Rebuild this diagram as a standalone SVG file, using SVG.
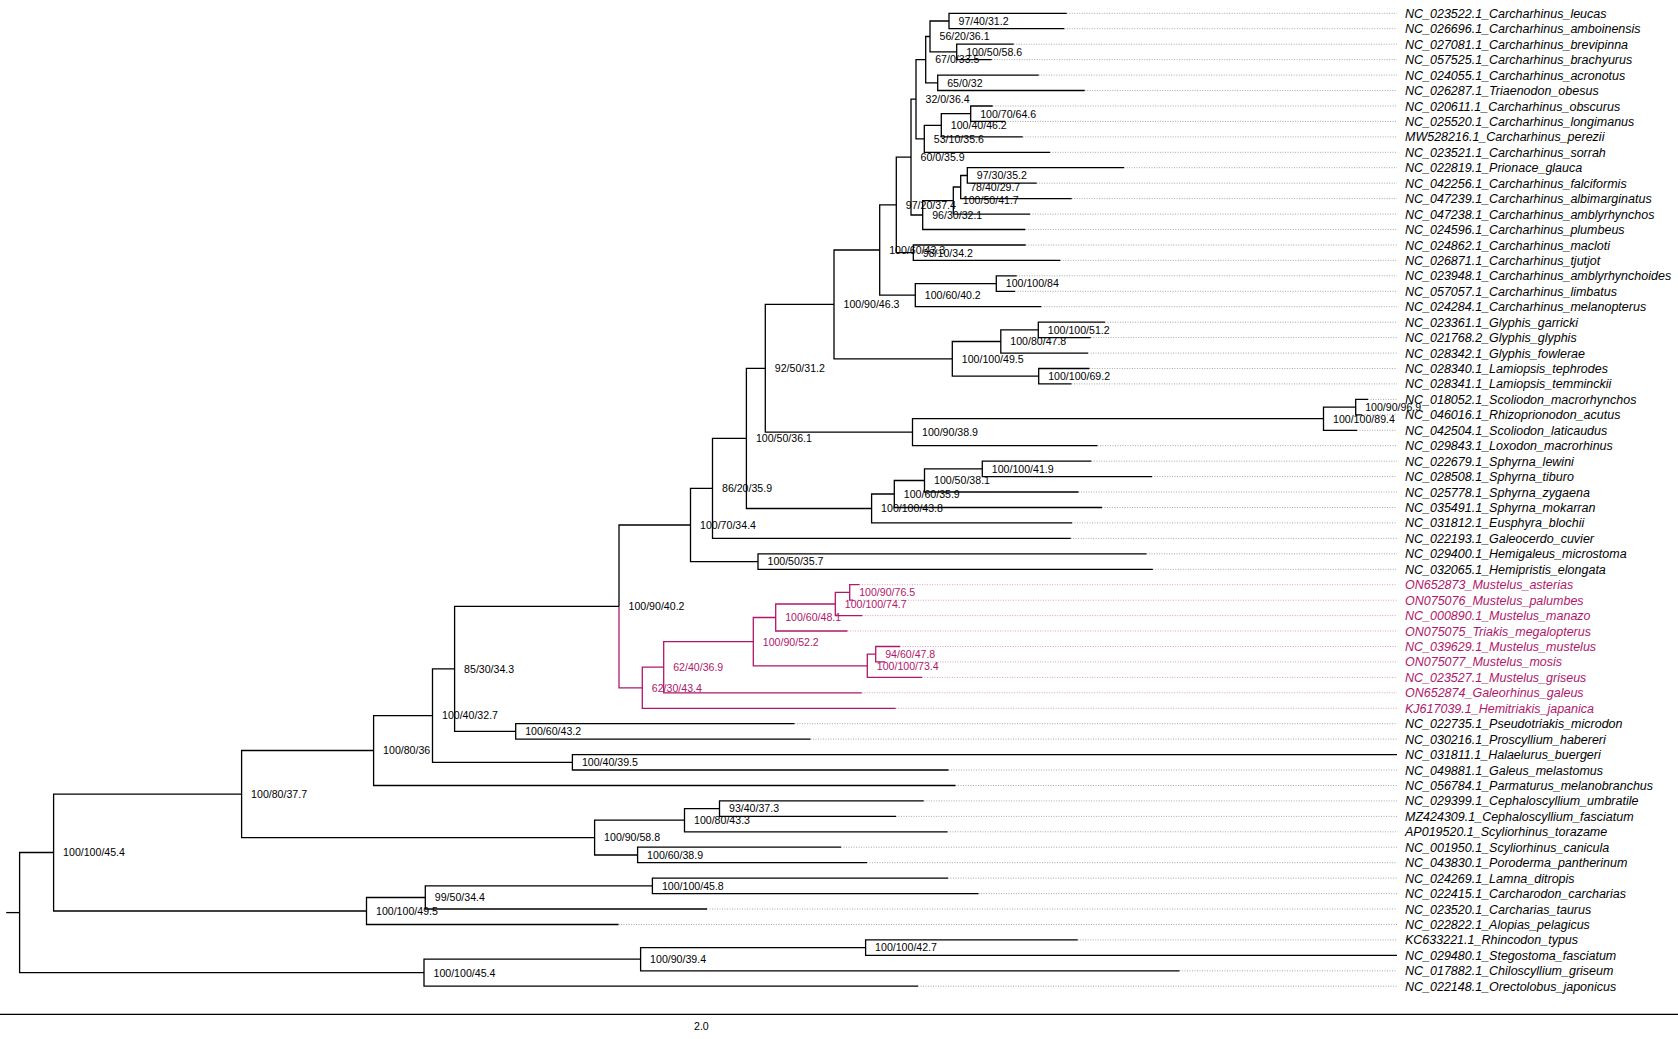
<svg xmlns="http://www.w3.org/2000/svg" width="1678" height="1039" viewBox="0 0 1678 1039">
<style>
.b{fill:none;stroke:#000;stroke-width:1.3}
.p{fill:none;stroke:#b0176a;stroke-width:1.3}
.d{fill:none;stroke:#a8a8a8;stroke-width:1;stroke-dasharray:1 1.5}
.dp{fill:none;stroke:#d9a3c2;stroke-width:1;stroke-dasharray:1 1.5}
.t{font-family:"Liberation Sans",Arial,sans-serif;font-style:italic;font-size:12.5px;fill:#000}
.tp{fill:#b0176a}
.n{font-family:"Liberation Sans",Arial,sans-serif;font-size:10.6px;fill:#000}
.np{fill:#b0176a}
</style>
<rect width="1678" height="1039" fill="#fff"/>
<g id="guides">
<path class="d" d="M1066.7,13.3H1397M1064.3,28.7H1397M1013.7,44.2H1397M991.7,59.6H1397M1038.7,75.1H1397M1084.7,90.5H1397M992.7,106H1397M1005,121.4H1397M1022.7,136.9H1397M1050,152.3H1397M1124,167.7H1397M1036.7,183.2H1397M1071.7,198.6H1397M1030,214.1H1397M1025.3,229.5H1397M1025.7,245H1397M1060.3,260.4H1397M1016.7,275.8H1397M1015,291.3H1397M1041.3,306.7H1397M1105,322.2H1397M1090.7,337.6H1397M1088,353.1H1397M1089.4,368.5H1397M1071.5,383.9H1397M1368,399.4H1397M1362,414.8H1397M1357,430.3H1397M1097.5,445.7H1397M1091.3,461.2H1397M1152,476.6H1397M1078.5,492H1397M1102,507.5H1397M1072,522.9H1397M1070.7,538.4H1397M1146.5,553.8H1397M1152.8,569.3H1397"/>
<path class="dp" d="M859.5,584.7H1397M853,600.2H1397M862.3,615.6H1397M847.5,631H1397M900,646.5H1397M885,661.9H1397M922,677.4H1397M861.7,692.8H1397M895.7,708.3H1397"/>
<path class="d" d="M794.5,723.7H1397M810.5,739.1H1397M948.5,770H1397M955.5,785.5H1397M923.7,800.9H1397M896,816.4H1397M947.5,831.8H1397M841,847.2H1397M867,862.7H1397M948,878.1H1397M978.5,893.6H1397M707,909H1397M618.5,924.5H1397M1077.7,939.9H1397M1179.5,970.8H1397M918,986.2H1397"/>
</g>
<g id="connectors">
<path class="b" d="M1066.7,13.3H949V28.7H1064.3"/>
<path class="b" d="M1013.7,44.2H956.7V59.6H991.7"/>
<path class="b" d="M949,21H930V51.9H956.7"/>
<path class="b" d="M1038.7,75.1H937.7V90.5H1084.7"/>
<path class="b" d="M930,36.5H925.7V82.8H937.7"/>
<path class="b" d="M992.7,106H970.7V121.4H1005"/>
<path class="b" d="M970.7,113.7H941.3V136.9H1022.7"/>
<path class="b" d="M941.3,125.3H924.3V152.3H1050"/>
<path class="b" d="M925.7,59.6H916V138.8H924.3"/>
<path class="b" d="M1124,167.7H967.3V183.2H1036.7"/>
<path class="b" d="M967.3,175.5H960.7V198.6H1071.7"/>
<path class="b" d="M960.7,187H953.3V214.1H1030"/>
<path class="b" d="M953.3,200.6H922.7V229.5H1025.3"/>
<path class="b" d="M916,99.2H911V215H922.7"/>
<path class="b" d="M1025.7,245H913.3V260.4H1060.3"/>
<path class="b" d="M911,157.1H896.3V252.7H913.3"/>
<path class="b" d="M1016.7,275.8H996.3V291.3H1015"/>
<path class="b" d="M996.3,283.6H915.3V306.7H1041.3"/>
<path class="b" d="M896.3,204.9H879.7V295.2H915.3"/>
<path class="b" d="M1105,322.2H1038.3V337.6H1090.7"/>
<path class="b" d="M1038.3,329.9H1000.8V353.1H1088"/>
<path class="b" d="M1089.4,368.5H1038.7V383.9H1071.5"/>
<path class="b" d="M1000.8,341.5H952.3V376.2H1038.7"/>
<path class="b" d="M879.7,250H834V358.9H952.3"/>
<path class="b" d="M1368,399.4H1355.7V414.8H1362"/>
<path class="b" d="M1355.7,407.1H1323.5V430.3H1357"/>
<path class="b" d="M1323.5,418.7H912.5V445.7H1097.5"/>
<path class="b" d="M834,304.4H765.3V432.2H912.5"/>
<path class="b" d="M1091.3,461.2H982.3V476.6H1152"/>
<path class="b" d="M982.3,468.9H924.5V492H1078.5"/>
<path class="b" d="M924.5,480.5H894.3V507.5H1102"/>
<path class="b" d="M894.3,494H871.6V522.9H1072"/>
<path class="b" d="M765.3,368.3H746.4V508.5H871.6"/>
<path class="b" d="M746.4,438.4H712.5V538.4H1070.7"/>
<path class="b" d="M1146.5,553.8H758V569.3H1152.8"/>
<path class="b" d="M712.5,488.4H690.5V561.6H758"/>
<path class="b" d="M690.5,525H619V606.4"/>
<path class="p" d="M619,606.4V687.8H642.3"/>
<path class="p" d="M859.5,584.7H849.7V600.2H853"/>
<path class="p" d="M849.7,592.4H835.3V615.6H862.3"/>
<path class="p" d="M835.3,604H775.7V631H847.5"/>
<path class="p" d="M900,646.5H875.7V661.9H885"/>
<path class="p" d="M875.7,654.2H867.3V677.4H922"/>
<path class="p" d="M775.7,617.5H753.3V665.8H867.3"/>
<path class="p" d="M753.3,641.7H663.7V692.8H861.7"/>
<path class="p" d="M663.7,667.2H642.3V708.3H895.7"/>
<path class="b" d="M794.5,723.7H515.7V739.1H810.5"/>
<path class="b" d="M619,606.4H454.6V731.4H515.7"/>
<path class="b" d="M1397,754.6H572.4V770H948.5"/>
<path class="b" d="M454.6,668.9H432.5V762.3H572.4"/>
<path class="b" d="M432.5,715.6H373.6V785.5H955.5"/>
<path class="b" d="M923.7,800.9H719.5V816.4H896"/>
<path class="b" d="M719.5,808.6H684.5V831.8H947.5"/>
<path class="b" d="M841,847.2H637.6V862.7H867"/>
<path class="b" d="M684.5,820.2H594.6V855H637.6"/>
<path class="b" d="M373.6,750.5H241.6V837.6H594.6"/>
<path class="b" d="M948,878.1H652.4V893.6H978.5"/>
<path class="b" d="M652.4,885.9H425.3V909H707"/>
<path class="b" d="M425.3,897.5H366.5V924.5H618.5"/>
<path class="b" d="M241.6,794.1H53.6V911H366.5"/>
<path class="b" d="M1077.7,939.9H865.6V955.3H1397"/>
<path class="b" d="M865.6,947.6H640.6V970.8H1179.5"/>
<path class="b" d="M640.6,959.2H424V986.2H918"/>
<path class="b" d="M53.6,852.5H19.6V972.7H424"/>
<path class="b" d="M6.2,912.6H19.6"/>
</g>
<g id="tips" class="t">
<g id="tip01"><text x="1405" y="17.8">NC_023522.1_Carcharhinus_leucas</text></g>
<g id="tip02"><text x="1405" y="33.2">NC_026696.1_Carcharhinus_amboinensis</text></g>
<g id="tip03"><text x="1405" y="48.7">NC_027081.1_Carcharhinus_brevipinna</text></g>
<g id="tip04"><text x="1405" y="64.1">NC_057525.1_Carcharhinus_brachyurus</text></g>
<g id="tip05"><text x="1405" y="79.6">NC_024055.1_Carcharhinus_acronotus</text></g>
<g id="tip06"><text x="1405" y="95">NC_026287.1_Triaenodon_obesus</text></g>
<g id="tip07"><text x="1405" y="110.5">NC_020611.1_Carcharhinus_obscurus</text></g>
<g id="tip08"><text x="1405" y="125.9">NC_025520.1_Carcharhinus_longimanus</text></g>
<g id="tip09"><text x="1405" y="141.4">MW528216.1_Carcharhinus_perezii</text></g>
<g id="tip10"><text x="1405" y="156.8">NC_023521.1_Carcharhinus_sorrah</text></g>
<g id="tip11"><text x="1405" y="172.2">NC_022819.1_Prionace_glauca</text></g>
<g id="tip12"><text x="1405" y="187.7">NC_042256.1_Carcharhinus_falciformis</text></g>
<g id="tip13"><text x="1405" y="203.1">NC_047239.1_Carcharhinus_albimarginatus</text></g>
<g id="tip14"><text x="1405" y="218.6">NC_047238.1_Carcharhinus_amblyrhynchos</text></g>
<g id="tip15"><text x="1405" y="234">NC_024596.1_Carcharhinus_plumbeus</text></g>
<g id="tip16"><text x="1405" y="249.5">NC_024862.1_Carcharhinus_macloti</text></g>
<g id="tip17"><text x="1405" y="264.9">NC_026871.1_Carcharhinus_tjutjot</text></g>
<g id="tip18"><text x="1405" y="280.3">NC_023948.1_Carcharhinus_amblyrhynchoides</text></g>
<g id="tip19"><text x="1405" y="295.8">NC_057057.1_Carcharhinus_limbatus</text></g>
<g id="tip20"><text x="1405" y="311.2">NC_024284.1_Carcharhinus_melanopterus</text></g>
<g id="tip21"><text x="1405" y="326.7">NC_023361.1_Glyphis_garricki</text></g>
<g id="tip22"><text x="1405" y="342.1">NC_021768.2_Glyphis_glyphis</text></g>
<g id="tip23"><text x="1405" y="357.6">NC_028342.1_Glyphis_fowlerae</text></g>
<g id="tip24"><text x="1405" y="373">NC_028340.1_Lamiopsis_tephrodes</text></g>
<g id="tip25"><text x="1405" y="388.4">NC_028341.1_Lamiopsis_temminckii</text></g>
<g id="tip26"><text x="1405" y="403.9">NC_018052.1_Scoliodon_macrorhynchos</text></g>
<g id="tip27"><text x="1405" y="419.3">NC_046016.1_Rhizoprionodon_acutus</text></g>
<g id="tip28"><text x="1405" y="434.8">NC_042504.1_Scoliodon_laticaudus</text></g>
<g id="tip29"><text x="1405" y="450.2">NC_029843.1_Loxodon_macrorhinus</text></g>
<g id="tip30"><text x="1405" y="465.7">NC_022679.1_Sphyrna_lewini</text></g>
<g id="tip31"><text x="1405" y="481.1">NC_028508.1_Sphyrna_tiburo</text></g>
<g id="tip32"><text x="1405" y="496.5">NC_025778.1_Sphyrna_zygaena</text></g>
<g id="tip33"><text x="1405" y="512">NC_035491.1_Sphyrna_mokarran</text></g>
<g id="tip34"><text x="1405" y="527.4">NC_031812.1_Eusphyra_blochii</text></g>
<g id="tip35"><text x="1405" y="542.9">NC_022193.1_Galeocerdo_cuvier</text></g>
<g id="tip36"><text x="1405" y="558.3">NC_029400.1_Hemigaleus_microstoma</text></g>
<g id="tip37"><text x="1405" y="573.8">NC_032065.1_Hemipristis_elongata</text></g>
<g id="tip38"><text class="tp" x="1405" y="589.2">ON652873_Mustelus_asterias</text></g>
<g id="tip39"><text class="tp" x="1405" y="604.7">ON075076_Mustelus_palumbes</text></g>
<g id="tip40"><text class="tp" x="1405" y="620.1">NC_000890.1_Mustelus_manazo</text></g>
<g id="tip41"><text class="tp" x="1405" y="635.5">ON075075_Triakis_megalopterus</text></g>
<g id="tip42"><text class="tp" x="1405" y="651">NC_039629.1_Mustelus_mustelus</text></g>
<g id="tip43"><text class="tp" x="1405" y="666.4">ON075077_Mustelus_mosis</text></g>
<g id="tip44"><text class="tp" x="1405" y="681.9">NC_023527.1_Mustelus_griseus</text></g>
<g id="tip45"><text class="tp" x="1405" y="697.3">ON652874_Galeorhinus_galeus</text></g>
<g id="tip46"><text class="tp" x="1405" y="712.8">KJ617039.1_Hemitriakis_japanica</text></g>
<g id="tip47"><text x="1405" y="728.2">NC_022735.1_Pseudotriakis_microdon</text></g>
<g id="tip48"><text x="1405" y="743.6">NC_030216.1_Proscyllium_habereri</text></g>
<g id="tip49"><text x="1405" y="759.1">NC_031811.1_Halaelurus_buergeri</text></g>
<g id="tip50"><text x="1405" y="774.5">NC_049881.1_Galeus_melastomus</text></g>
<g id="tip51"><text x="1405" y="790">NC_056784.1_Parmaturus_melanobranchus</text></g>
<g id="tip52"><text x="1405" y="805.4">NC_029399.1_Cephaloscyllium_umbratile</text></g>
<g id="tip53"><text x="1405" y="820.9">MZ424309.1_Cephaloscyllium_fasciatum</text></g>
<g id="tip54"><text x="1405" y="836.3">AP019520.1_Scyliorhinus_torazame</text></g>
<g id="tip55"><text x="1405" y="851.7">NC_001950.1_Scyliorhinus_canicula</text></g>
<g id="tip56"><text x="1405" y="867.2">NC_043830.1_Poroderma_pantherinum</text></g>
<g id="tip57"><text x="1405" y="882.6">NC_024269.1_Lamna_ditropis</text></g>
<g id="tip58"><text x="1405" y="898.1">NC_022415.1_Carcharodon_carcharias</text></g>
<g id="tip59"><text x="1405" y="913.5">NC_023520.1_Carcharias_taurus</text></g>
<g id="tip60"><text x="1405" y="929">NC_022822.1_Alopias_pelagicus</text></g>
<g id="tip61"><text x="1405" y="944.4">KC633221.1_Rhincodon_typus</text></g>
<g id="tip62"><text x="1405" y="959.8">NC_029480.1_Stegostoma_fasciatum</text></g>
<g id="tip63"><text x="1405" y="975.3">NC_017882.1_Chiloscyllium_griseum</text></g>
<g id="tip64"><text x="1405" y="990.7">NC_022148.1_Orectolobus_japonicus</text></g>
</g>
<g id="nodes" class="n">
<g id="nCD"><text x="958.5" y="24.8">97/40/31.2</text></g>
<g id="nCE"><text x="966.2" y="55.7">100/50/58.6</text></g>
<g id="nCC"><text x="939.5" y="40.3">56/20/36.1</text></g>
<g id="nCF"><text x="947.2" y="86.6">65/0/32</text></g>
<g id="nCB"><text x="935.2" y="63.4">67/0/33.5</text></g>
<g id="nCI"><text x="980.2" y="117.5">100/70/64.6</text></g>
<g id="nCH"><text x="950.8" y="129.1">100/40/46.2</text></g>
<g id="nCG"><text x="933.8" y="142.6">53/10/35.6</text></g>
<g id="nCA"><text x="925.5" y="103">32/0/36.4</text></g>
<g id="nCM"><text x="976.8" y="179.3">97/30/35.2</text></g>
<g id="nCL"><text x="970.2" y="190.8">78/40/29.7</text></g>
<g id="nCK"><text x="962.8" y="204.4">100/50/41.7</text></g>
<g id="nCJ"><text x="932.2" y="218.8">96/30/32.1</text></g>
<g id="nBC"><text x="920.5" y="160.9">60/0/35.9</text></g>
<g id="nBD"><text x="922.8" y="256.5">98/10/34.2</text></g>
<g id="nBA"><text x="905.8" y="208.7">97/20/37.4</text></g>
<g id="nBE"><text x="1005.8" y="287.4">100/100/84</text></g>
<g id="nBB"><text x="924.8" y="299">100/60/40.2</text></g>
<g id="nAN"><text x="889.2" y="253.8">100/60/43.3</text></g>
<g id="nAR"><text x="1047.8" y="333.7">100/100/51.2</text></g>
<g id="nAP"><text x="1010.3" y="345.3">100/80/47.8</text></g>
<g id="nAQ"><text x="1048.2" y="380">100/100/69.2</text></g>
<g id="nAO"><text x="961.8" y="362.7">100/100/49.5</text></g>
<g id="nAG"><text x="843.5" y="308.2">100/90/46.3</text></g>
<g id="nAJ"><text x="1365.2" y="410.9">100/90/96.9</text></g>
<g id="nAI"><text x="1333" y="422.5">100/100/89.4</text></g>
<g id="nAH"><text x="922" y="436">100/90/38.9</text></g>
<g id="nAE"><text x="774.8" y="372.1">92/50/31.2</text></g>
<g id="nAM"><text x="991.8" y="472.7">100/100/41.9</text></g>
<g id="nAL"><text x="934" y="484.3">100/50/38.1</text></g>
<g id="nAK"><text x="903.8" y="497.8">100/60/35.9</text></g>
<g id="nAF"><text x="881.1" y="512.3">100/100/43.8</text></g>
<g id="nAD"><text x="755.9" y="442.2">100/50/36.1</text></g>
<g id="nAB"><text x="722" y="492.2">86/20/35.9</text></g>
<g id="nAC"><text x="767.5" y="565.4">100/50/35.7</text></g>
<g id="nS"><text x="700" y="528.8">100/70/34.4</text></g>
<g id="nZ"><text class="np" x="859.2" y="596.2">100/90/76.5</text></g>
<g id="nY"><text class="np" x="844.8" y="607.8">100/100/74.7</text></g>
<g id="nW"><text class="np" x="785.2" y="621.3">100/60/48.1</text></g>
<g id="nAA"><text class="np" x="885.2" y="658">94/60/47.8</text></g>
<g id="nX"><text class="np" x="876.8" y="669.6">100/100/73.4</text></g>
<g id="nV"><text class="np" x="762.8" y="645.5">100/90/52.2</text></g>
<g id="nU"><text class="np" x="673.2" y="671">62/40/36.9</text></g>
<g id="nT"><text class="np" x="651.8" y="691.6">62/30/43.4</text></g>
<g id="nQ"><text x="628.5" y="610.2">100/90/40.2</text></g>
<g id="nR"><text x="525.2" y="735.2">100/60/43.2</text></g>
<g id="nO"><text x="464.1" y="672.7">85/30/34.3</text></g>
<g id="nP"><text x="581.9" y="766.1">100/40/39.5</text></g>
<g id="nN"><text x="442" y="719.4">100/40/32.7</text></g>
<g id="nI"><text x="383.1" y="754.3">100/80/36</text></g>
<g id="nM"><text x="729" y="812.4">93/40/37.3</text></g>
<g id="nK"><text x="694" y="824">100/80/43.3</text></g>
<g id="nL"><text x="647.1" y="858.8">100/60/38.9</text></g>
<g id="nJ"><text x="604.1" y="841.4">100/90/58.8</text></g>
<g id="nE"><text x="251.1" y="797.9">100/80/37.7</text></g>
<g id="nH"><text x="661.9" y="889.7">100/100/45.8</text></g>
<g id="nG"><text x="434.8" y="901.3">99/50/34.4</text></g>
<g id="nF"><text x="376" y="914.8">100/100/49.5</text></g>
<g id="nA"><text x="63.1" y="856.3">100/100/45.4</text></g>
<g id="nD"><text x="875.1" y="951.4">100/100/42.7</text></g>
<g id="nC"><text x="650.1" y="963">100/90/39.4</text></g>
<g id="nB"><text x="433.5" y="976.5">100/100/45.4</text></g>
</g>
<g id="scale">
<path class="b" d="M0,1014.3H1678"/>
<text class="n" x="694" y="1030">2.0</text>
</g>
</svg>
